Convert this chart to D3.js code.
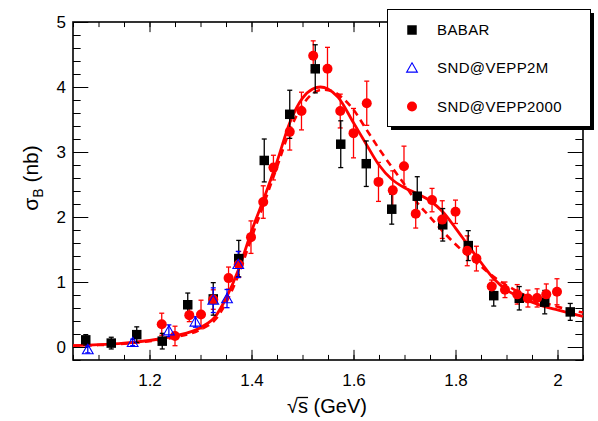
<!DOCTYPE html>
<html>
<head>
<meta charset="utf-8">
<script src="https://cdn.jsdelivr.net/npm/d3@7/dist/d3.min.js"></script>
<style>
  html, body { margin: 0; padding: 0; background: #fff; }
  svg { display: block; }
  text { font-family: "Liberation Sans", Arial, Helvetica, sans-serif; fill: #000; }
</style>
</head>
<body>
<svg id="chart" width="598" height="421"></svg>
<script>
// Born cross section sigma_B (nb) versus sqrt(s) (GeV)

// BABAR
const babarX   = [1.075, 1.125, 1.175, 1.225, 1.275, 1.325, 1.375, 1.425, 1.475, 1.525,
                  1.575, 1.625, 1.675, 1.725, 1.775, 1.825, 1.875, 1.925, 1.975, 2.025];
const babarY   = [0.11, 0.06, 0.19, 0.09, 0.65, 0.74, 1.36, 2.87, 3.58, 4.28,
                  3.12, 2.82, 2.12, 2.32, 1.88, 1.56, 0.79, 0.75, 0.69, 0.54];
const babarErr = [0.08, 0.09, 0.12, 0.12, 0.18, 0.25, 0.28, 0.33, 0.37, 0.37,
                  0.36, 0.35, 0.23, 0.30, 0.25, 0.23, 0.16, 0.18, 0.18, 0.13];

// SND@VEPP2M
const vepp2mX   = [1.079, 1.167, 1.238, 1.290, 1.325, 1.352, 1.374];
const vepp2mY   = [-0.04, 0.07, 0.25, 0.385, 0.72, 0.745, 1.27];
const vepp2mErr = [0.05, 0.05, 0.09, 0.08, 0.19, 0.14, 0.20];

// SND@VEPP2000
const vepp2000X   = [1.224, 1.250, 1.278, 1.301, 1.325, 1.355, 1.375, 1.399, 1.423, 1.443,
                     1.475, 1.498, 1.521, 1.549, 1.574, 1.600, 1.626, 1.649, 1.677, 1.699,
                     1.722, 1.754, 1.774, 1.800, 1.823, 1.841, 1.871, 1.897, 1.921, 1.942,
                     1.960, 1.978, 1.999];
const vepp2000Y   = [0.35, 0.17, 0.49, 0.50, 0.73, 1.06, 1.27, 1.69, 2.23, 2.76,
                     3.31, 3.63, 4.48, 4.28, 3.63, 3.29, 3.75, 2.54, 2.41, 2.78,
                     2.05, 2.26, 1.96, 2.08, 1.48, 1.36, 0.93, 0.88, 0.81, 0.745,
                     0.755, 0.81, 0.85];
const vepp2000Err = [0.17, 0.15, 0.10, 0.22, 0.15, 0.17, 0.20, 0.25, 0.25, 0.19,
                     0.28, 0.29, 0.23, 0.33, 0.26, 0.38, 0.34, 0.30, 0.30, 0.31,
                     0.22, 0.18, 0.29, 0.18, 0.23, 0.19, 0.10, 0.12, 0.15, 0.13,
                     0.14, 0.16, 0.20];

// Fit curves
const fitX      = [1.05, 1.10, 1.15, 1.20, 1.25, 1.30, 1.33, 1.35, 1.375, 1.40,
                   1.425, 1.45, 1.475, 1.50, 1.52, 1.535, 1.55, 1.57, 1.60, 1.625,
                   1.65, 1.675, 1.70, 1.725, 1.75, 1.775, 1.80, 1.825, 1.85, 1.875,
                   1.90, 1.925, 1.95, 1.975, 2.00, 2.025, 2.05];
const fitSolid  = [0.02, 0.035, 0.06, 0.10, 0.17, 0.30, 0.48, 0.75, 1.20, 1.78,
                   2.30, 2.85, 3.45, 3.83, 3.97, 4.00, 3.97, 3.84, 3.45, 3.12,
                   2.80, 2.58, 2.45, 2.36, 2.25, 2.08, 1.83, 1.56, 1.30, 1.05,
                   0.88, 0.77, 0.69, 0.62, 0.57, 0.52, 0.47];
const fitDashedX = [1.05, 1.10, 1.15, 1.20, 1.25, 1.30, 1.33, 1.35, 1.375, 1.40,
                    1.425, 1.45, 1.475, 1.50, 1.52, 1.54, 1.56, 1.58, 1.60, 1.625,
                    1.65, 1.675, 1.70, 1.725, 1.75, 1.775, 1.80, 1.825, 1.85, 1.875,
                    1.90, 1.925, 1.95, 1.975, 2.00, 2.05];
const fitDashed  = [0.02, 0.03, 0.05, 0.09, 0.15, 0.27, 0.43, 0.68, 1.12, 1.68,
                    2.22, 2.77, 3.33, 3.72, 3.90, 3.96, 3.93, 3.82, 3.65, 3.35,
                    3.05, 2.77, 2.50, 2.22, 2.00, 1.78, 1.58, 1.40, 1.24, 1.08,
                    0.95, 0.84, 0.75, 0.68, 0.62, 0.53];

const xTicks = [1.2, 1.4, 1.6, 1.8, 2.0];
const yTicks = [0, 1, 2, 3, 4, 5];
const legendLabels = ["BABAR", "SND@VEPP2M", "SND@VEPP2000"];

const svg = d3.select("#chart");
const padL = 73, padR = 583, padT = 22, padB = 360;

const x = d3.scaleLinear().domain([1.05, 2.05]).range([padL, padR]);
const y = d3.scaleLinear().domain([-0.2, 5]).range([padB, padT]);

const plotH = padB - padT, plotW = padR - padL;
const xMajor = 0.03 * plotH, yMajor = 0.03 * plotW;

// Axes: ticks point inward on all four sides
function styleAxis(g) {
  g.selectAll(".domain").remove();
  g.selectAll("line").attr("stroke", "#000").attr("stroke-width", 1);
}
const xMinor = d3.range(1.05, 2.051, 0.05).map(v => +v.toFixed(2));
const yMinor = d3.range(-0.2, 5.001, 0.2).map(v => +v.toFixed(1));

svg.append("g").attr("transform", `translate(0,${padB})`)
  .call(d3.axisBottom(x).tickValues(xMinor).tickSize(-xMajor / 2).tickFormat(""))
  .call(styleAxis);
svg.append("g").attr("transform", `translate(0,${padB})`)
  .call(d3.axisBottom(x).tickValues(xTicks).tickSize(-xMajor).tickFormat(d => d === 2 ? "2" : d3.format(".1f")(d)))
  .call(styleAxis)
  .call(g => g.selectAll("text").attr("font-size", 17).attr("dy", "0.71em").attr("y", 14));
svg.append("g").attr("transform", `translate(0,${padT})`)
  .call(d3.axisTop(x).tickValues(xMinor).tickSize(-xMajor / 2).tickFormat(""))
  .call(styleAxis);
svg.append("g").attr("transform", `translate(0,${padT})`)
  .call(d3.axisTop(x).tickValues(xTicks).tickSize(-xMajor).tickFormat(""))
  .call(styleAxis);

svg.append("g").attr("transform", `translate(${padL},0)`)
  .call(d3.axisLeft(y).tickValues(yMinor).tickSize(-yMajor / 2).tickFormat(""))
  .call(styleAxis);
svg.append("g").attr("transform", `translate(${padL},0)`)
  .call(d3.axisLeft(y).tickValues(yTicks).tickSize(-yMajor).tickFormat(d3.format("d")))
  .call(styleAxis)
  .call(g => g.selectAll("text").attr("font-size", 17).attr("x", -7));
svg.append("g").attr("transform", `translate(${padR},0)`)
  .call(d3.axisRight(y).tickValues(yMinor).tickSize(-yMajor / 2).tickFormat(""))
  .call(styleAxis);
svg.append("g").attr("transform", `translate(${padR},0)`)
  .call(d3.axisRight(y).tickValues(yTicks).tickSize(-yMajor).tickFormat(""))
  .call(styleAxis);

// Frame
svg.append("rect").attr("x", padL).attr("y", padT).attr("width", plotW).attr("height", plotH)
  .attr("fill", "none").attr("stroke", "#000").attr("stroke-width", 1.6);

// Axis titles; the radical sign gets a bar over the s
const xt = svg.append("text").attr("x", 327).attr("y", 413).attr("text-anchor", "middle")
  .attr("font-size", 20);
xt.append("tspan").text("\u221A");
const sSpan = xt.append("tspan").text("s");
xt.append("tspan").text(" (GeV)");
const sBox = sSpan.node().getBBox();
svg.append("line").attr("x1", sBox.x - 0.5).attr("x2", sBox.x + sBox.width)
  .attr("y1", sBox.y + 2.5).attr("y2", sBox.y + 2.5)
  .attr("stroke", "#000").attr("stroke-width", 1.3);

const yt = svg.append("text").attr("transform", "translate(38,178) rotate(-90)")
  .attr("text-anchor", "middle").attr("font-size", 21);
yt.append("tspan").text("\u03C3");
yt.append("tspan").attr("font-size", 14).attr("dy", 5).text("B");
yt.append("tspan").attr("dy", -5).text(" (nb)");

// Fit curves
const line = d3.line().x(d => x(d[0])).y(d => y(d[1])).curve(d3.curveMonotoneX);
const plot = svg.append("g");
plot.append("path").datum(fitDashedX.map((v, i) => [v, fitDashed[i]]))
  .attr("d", line).attr("fill", "none").attr("stroke", "#ff0000")
  .attr("stroke-width", 2.6).attr("stroke-dasharray", "7,5");
plot.append("path").datum(fitX.map((v, i) => [v, fitSolid[i]]))
  .attr("d", line).attr("fill", "none").attr("stroke", "#ff0000")
  .attr("stroke-width", 2.8);

// Error bars with short end caps
function errorBars(xs, ys, es, color) {
  const g = plot.append("g").attr("stroke", color).attr("stroke-width", 1.3);
  xs.forEach((xv, i) => {
    const cx = x(xv), y0 = y(ys[i] - es[i]), y1 = y(ys[i] + es[i]);
    g.append("line").attr("x1", cx).attr("x2", cx).attr("y1", y0).attr("y2", y1);
    g.append("line").attr("x1", cx - 2.5).attr("x2", cx + 2.5).attr("y1", y0).attr("y2", y0);
    g.append("line").attr("x1", cx - 2.5).attr("x2", cx + 2.5).attr("y1", y1).attr("y2", y1);
  });
}
errorBars(vepp2000X, vepp2000Y, vepp2000Err, "#ff0000");
errorBars(babarX, babarY, babarErr, "#000");
errorBars(vepp2mX, vepp2mY, vepp2mErr, "#0000ff");

const sq = d3.symbol().type(d3.symbolSquare).size(90);
const tri = d3.symbol().type(d3.symbolTriangle).size(50);

plot.append("g").selectAll("path").data(babarX.map((v, i) => [v, babarY[i]])).join("path")
  .attr("d", sq).attr("transform", d => `translate(${x(d[0])},${y(d[1])})`)
  .attr("fill", "#000");
plot.append("g").selectAll("circle").data(vepp2000X.map((v, i) => [v, vepp2000Y[i]])).join("circle")
  .attr("cx", d => x(d[0])).attr("cy", d => y(d[1])).attr("r", 5).attr("fill", "#ff0000");
plot.append("g").selectAll("path").data(vepp2mX.map((v, i) => [v, vepp2mY[i]])).join("path")
  .attr("d", tri).attr("transform", d => `translate(${x(d[0])},${y(d[1]) + 1})`)
  .attr("fill", "none").attr("stroke", "#0000ff").attr("stroke-width", 1.1);

// Legend box with drop shadow
const lg = svg.append("g");
lg.append("rect").attr("x", 391).attr("y", 13).attr("width", 203).attr("height", 117).attr("fill", "#000");
lg.append("rect").attr("x", 387.5).attr("y", 9.5).attr("width", 203).attr("height", 117)
  .attr("fill", "#fff").attr("stroke", "#000").attr("stroke-width", 1);
const rowY = [30, 68, 106.5];
lg.append("path").attr("d", sq).attr("transform", `translate(412,${rowY[0]})`).attr("fill", "#000");
lg.append("path").attr("d", tri).attr("transform", `translate(412,${rowY[1] + 1})`)
  .attr("fill", "none").attr("stroke", "#0000ff").attr("stroke-width", 1.1);
lg.append("circle").attr("cx", 412).attr("cy", rowY[2]).attr("r", 5).attr("fill", "#ff0000");
legendLabels.forEach((t, i) => {
  lg.append("text").attr("x", 437).attr("y", rowY[i]).attr("dy", "0.36em")
    .attr("font-size", 15).attr("letter-spacing", 0.4).text(t);
});
</script>
</body>
</html>
